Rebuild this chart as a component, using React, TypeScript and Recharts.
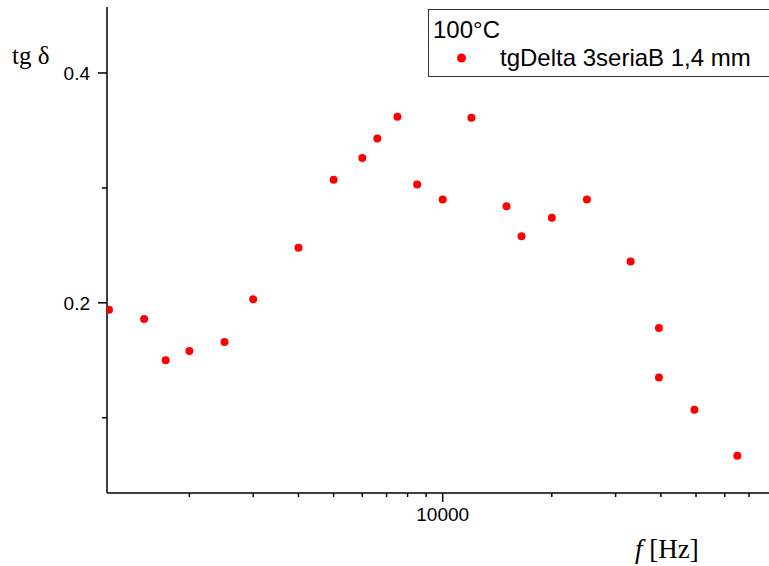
import React from 'react';
import { ScatterChart, Scatter, XAxis, YAxis, Legend } from 'recharts';

// frequency [Hz] and tg delta
const FREQ = [1200, 1500, 1720, 2000, 2500, 3000, 4000, 5000, 6000, 6600, 7500, 8500, 10000,
  12000, 15000, 16500, 20000, 25000, 33000, 39500, 39500, 49500, 65000];
const TGD = [0.194, 0.186, 0.150, 0.158, 0.166, 0.203, 0.248, 0.307, 0.326, 0.343, 0.362, 0.303, 0.290,
  0.361, 0.284, 0.258, 0.274, 0.290, 0.236, 0.178, 0.135, 0.107, 0.067];

const X_TICKS = [2000, 3000, 4000, 5000, 6000, 7000, 8000, 9000, 10000, 20000, 30000, 40000, 50000, 60000, 70000];
const X_LABELED = [10000];
const Y_TICKS = [0.1, 0.2, 0.3, 0.4];
const Y_LABELED = [0.2, 0.4];

const SERIES_NAME = 'tgDelta 3seriaB 1,4 mm';
const LEGEND_TITLE = '100°C';

const data = FREQ.map((f, i) => ({ f, v: TGD[i] }));

const SANS = 'Arial, "Liberation Sans", sans-serif';
const SERIF = '"Times New Roman", "Liberation Serif", serif';

const XTick = (props: any) => {
  const { x, y, payload } = props;
  const major = X_LABELED.includes(payload.value);
  return (
    <g>
      <line x1={x} x2={x} y1={y} y2={y + (major ? 9 : 4)} stroke="#000" strokeWidth={1.5} />
      {major && (
        <text x={x} y={y + 28} textAnchor="middle" fontSize={19} fontFamily={SANS} fill="#000">
          {payload.value}
        </text>
      )}
    </g>
  );
};

const YTick = (props: any) => {
  const { x, y, payload } = props;
  const major = Y_LABELED.includes(payload.value);
  return (
    <g>
      <line x1={x} x2={x - (major ? 9 : 5)} y1={y} y2={y} stroke="#000" strokeWidth={1.5} />
      {major && (
        <text x={x - 17} y={y + 7} textAnchor="end" fontSize={19} fontFamily={SANS} fill="#000">
          {payload.value}
        </text>
      )}
    </g>
  );
};

const LegendBox = () => (
  <svg width={345} height={70} style={{ display: 'block' }}>
    <rect x={0.5} y={0.5} width={400} height={67} fill="none" stroke="#333" strokeWidth={1} />
    <text x={5} y={29} fontSize={24} fontFamily={SANS} fill="#000">{LEGEND_TITLE}</text>
    <circle cx={33.5} cy={49} r={4.5} fill="#ff0000" />
    <text x={72} y={57} fontSize={24} fontFamily={SANS} fill="#000">{SERIES_NAME}</text>
  </svg>
);

export default function App() {
  return (
    <div style={{ position: 'absolute', left: 0, top: 0, width: 769, height: 566, overflow: 'hidden', background: '#fff' }}>
      <ScatterChart width={770} height={566} margin={{ top: 7, right: 0, bottom: 0, left: 0 }}>
        <XAxis
          type="number"
          dataKey="f"
          scale="log"
          domain={[1185, 80000]}
          allowDataOverflow
          ticks={X_TICKS}
          interval={0}
          height={73}
          tickSize={0}
          tickMargin={0}
          tickLine={false}
          tick={<XTick />}
          axisLine={{ stroke: '#000', strokeWidth: 1.5 }}
        />
        <YAxis
          type="number"
          dataKey="v"
          domain={[0.0345, 0.4574]}
          allowDataOverflow
          ticks={Y_TICKS}
          interval={0}
          width={107}
          tickSize={0}
          tickMargin={0}
          tickLine={false}
          tick={<YTick />}
          axisLine={{ stroke: '#000', strokeWidth: 1.5 }}
        />
        <Legend
          layout="horizontal"
          verticalAlign="middle"
          align="center"
          content={() => <LegendBox />}
          wrapperStyle={{ position: 'absolute', left: 428, top: 9, width: 345, height: 70 }}
        />
        <Scatter
          name={SERIES_NAME}
          data={data}
          fill="#ff0000"
          isAnimationActive={false}
          shape={(p: any) => <circle cx={p.cx} cy={p.cy} r={4} fill="#ff0000" />}
        />
      </ScatterChart>
      <div style={{ position: 'absolute', left: 12, top: 42, fontFamily: SERIF, fontSize: 25, lineHeight: '28px', whiteSpace: 'nowrap' }}>
        tg δ
      </div>
      <div style={{ position: 'absolute', left: 635, top: 534, fontFamily: SERIF, fontSize: 27, lineHeight: '30px', whiteSpace: 'nowrap' }}>
        <i>f</i> [Hz]
      </div>
    </div>
  );
}
